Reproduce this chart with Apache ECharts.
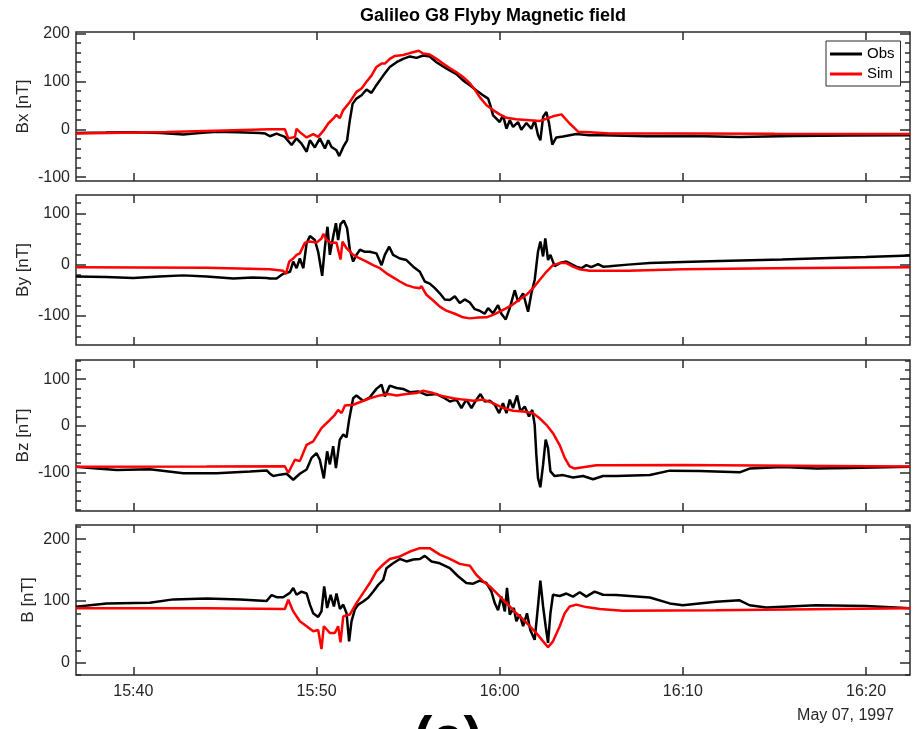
<!DOCTYPE html>
<html>
<head>
<meta charset="utf-8">
<script src="https://cdn.jsdelivr.net/npm/echarts@6/dist/echarts.min.js"></script>
<style>
  html, body { margin: 0; padding: 0; background: #ffffff; }
  #chart { width: 917px; height: 729px; }
</style>
</head>
<body>
<div id="chart"></div>
<script>
// Time is given in minutes after 15:00 UT, 7 May 1997.
const xTickMinutes = [40, 50, 60, 70, 80];
const xTickLabels = ['15:40', '15:50', '16:00', '16:10', '16:20'];

// Bx component [nT]
const bxObs = [[36.87,-7.6],[38.5,-7],[40.0,-6],[41.5,-8],[42.73,-11],[43.6,-8],[44.55,-5],[45.7,-6],[46.91,-7.6],[47.2,-9],[47.46,-14.6],[47.82,-9],[48.27,-16],[48.64,-33],[48.91,-19],[49.18,-30],[49.46,-47],[49.64,-23],[49.91,-38],[50.18,-19],[50.46,-40],[50.64,-23],[50.82,-37],[51.09,-44],[51.24,-56],[51.46,-37],[51.67,-23],[51.82,19],[51.97,53],[52.18,64],[52.46,71],[52.73,83],[53.0,76],[53.27,92],[53.64,112],[54.0,130],[54.37,140],[54.73,147],[55.1,152],[55.46,149],[55.82,154],[56.18,152],[56.55,140],[56.91,131],[57.27,123],[57.64,115],[58.0,102],[58.37,92],[58.73,81],[59.09,71],[59.37,64],[59.49,50],[59.64,29],[59.82,22],[60.0,15],[60.18,29],[60.37,1],[60.55,19],[60.73,5],[61.0,15],[61.18,-1],[61.46,13],[61.73,1],[61.91,19],[62.09,-12],[62.22,-23],[62.37,26],[62.55,36],[62.69,13],[62.87,-32],[63.09,-17],[63.46,-15],[64.18,-10],[64.91,-12.5],[65.64,-12.5],[68.0,-14.5],[70.5,-14],[73.1,-16],[76.0,-14],[79.0,-13],[82.4,-12.5]];
const bxSim = [[36.87,-9],[41.82,-5.6],[45.46,-2],[47.46,0],[48.27,0],[48.46,-19],[48.82,-16],[48.91,1],[49.09,-6],[49.46,-17],[49.82,-10],[50.09,-16],[50.37,-3.5],[50.64,12],[50.91,22],[51.09,30],[51.27,23],[51.46,40],[51.82,57],[52.18,78],[52.46,85],[52.73,99],[53.0,112],[53.27,130],[53.55,137],[53.73,137],[54.0,147],[54.28,153],[54.73,155],[55.1,159],[55.58,164],[55.82,158],[56.18,156],[56.55,147],[56.91,137],[57.27,128],[57.64,119],[58.0,109],[58.37,96],[58.64,83],[58.91,67],[59.28,50],[59.64,40],[60.0,31],[60.37,24],[60.91,21],[61.64,19],[62.18,17],[62.55,22],[62.91,27],[63.37,31],[63.82,12],[64.28,-5],[64.91,-6],[66.0,-9],[70.0,-9],[75.0,-9.5],[82.4,-10]];

// By component [nT]
const byObs = [[36.87,-23],[38.5,-24],[40.0,-26],[41.4,-23],[42.73,-21],[44.0,-23],[45.46,-27],[46.5,-25],[47.28,-26],[47.46,-27],[47.82,-27],[48.18,-18],[48.55,-14],[48.73,6],[48.91,-7],[49.09,12],[49.28,-7],[49.46,42],[49.64,56],[49.91,48],[50.09,25],[50.31,-22],[50.46,35],[50.6,74],[50.73,19],[50.91,55],[51.06,81],[51.18,48],[51.31,79],[51.49,86],[51.67,71],[51.82,29],[52.0,6],[52.18,19],[52.37,29],[52.64,25],[52.91,25],[53.27,22],[53.55,-1],[53.73,19],[53.97,35],[54.18,19],[54.55,12],[54.91,9],[55.28,-4],[55.64,-14],[55.91,-33],[56.18,-37],[56.46,-46],[56.73,-56],[57.0,-68],[57.28,-69],[57.55,-62],[57.82,-75],[58.09,-68],[58.37,-74],[58.64,-87],[58.91,-90],[59.18,-96],[59.37,-85],[59.64,-95],[59.91,-79],[60.09,-96],[60.33,-107],[60.55,-85],[60.82,-50],[61.0,-72],[61.28,-56],[61.55,-92],[61.73,-56],[61.91,-30],[62.09,25],[62.22,45],[62.37,16],[62.49,51],[62.64,9],[62.77,19],[63.0,-3],[63.28,3],[63.64,6],[63.91,1],[64.18,-4],[64.46,-7],[64.73,-1],[65.0,-5],[65.37,1],[65.64,-4],[66.0,-3],[67.0,0],[68.2,3],[70.0,5],[72.0,7],[75.4,10],[78.0,13],[80.0,15],[82.4,18]];
const bySim = [[36.87,-5],[44.0,-6],[47.46,-9],[48.18,-12],[48.33,-18],[48.51,6],[48.73,12],[48.91,19],[49.09,22],[49.37,43],[49.64,45],[50.0,43],[50.27,51],[50.37,60],[50.55,48],[50.82,42],[51.09,43],[51.31,10],[51.42,45],[51.64,32],[52.0,19],[52.37,12],[52.73,6],[53.09,-1],[53.46,-7],[53.82,-17],[54.18,-25],[54.55,-33],[54.91,-40],[55.28,-44],[55.64,-46],[55.73,-42],[56.0,-59],[56.37,-70],[56.73,-82],[57.09,-90],[57.55,-96],[58.0,-103],[58.37,-105],[58.82,-103.5],[59.28,-103],[59.64,-98],[60.0,-92],[60.37,-85],[60.73,-77.5],[61.09,-68],[61.46,-59],[61.82,-46],[62.18,-30],[62.55,-14],[62.91,-1],[63.28,3],[63.64,3],[64.0,-4],[64.37,-9],[64.91,-12],[65.64,-12],[67.0,-12],[70.0,-9],[75.0,-7],[82.4,-5]];

// Bz component [nT]
const bzObs = [[36.87,-88],[38.0,-92],[39.1,-95],[40.9,-93.5],[42.73,-102],[44.55,-102],[46.37,-98.5],[47.28,-96],[47.46,-103],[47.64,-108],[48.0,-105],[48.37,-103],[48.73,-116],[49.09,-103],[49.46,-94],[49.73,-69],[50.0,-59],[50.18,-73],[50.4,-113],[50.58,-55],[50.73,-83],[50.91,-44],[51.06,-91],[51.27,-30],[51.46,-19],[51.64,-25],[51.78,13],[52.0,59],[52.18,65],[52.55,53],[52.91,61],[53.27,79],[53.55,88],[53.73,63],[54.0,86],[54.37,81],[54.73,79],[55.1,72],[55.55,73.5],[56.0,66],[56.55,68],[56.91,61],[57.28,52],[57.64,56],[57.91,38],[58.18,56],[58.46,38],[58.73,56],[58.95,68],[59.18,52],[59.46,53.5],[59.73,45],[59.97,27],[60.18,48.5],[60.37,27],[60.55,56],[60.73,38],[60.95,65],[61.13,31],[61.37,41],[61.6,20],[61.78,34],[61.91,2],[62.0,-62],[62.09,-112],[62.22,-132],[62.37,-83.5],[62.51,-30],[62.64,-48],[62.77,-98],[63.0,-108],[63.46,-106],[64.0,-111],[64.55,-108],[65.1,-115],[65.64,-108],[66.37,-108],[68.2,-105.6],[69.28,-96.4],[70.9,-97],[73.1,-100],[73.64,-92],[75.46,-88.4],[77.28,-92],[79.1,-90.6],[82.4,-88]];
const bzSim = [[36.87,-88],[44.0,-87.5],[48.27,-87],[48.46,-101],[48.82,-73],[49.09,-76],[49.46,-41],[49.82,-33.5],[50.27,-5],[50.64,9],[51.0,23.5],[51.18,34],[51.37,27],[51.55,43.5],[52.0,45],[52.46,52],[52.91,59],[53.46,65],[53.91,68],[54.37,65],[54.91,68],[55.46,70],[55.82,75],[56.37,70],[56.91,63],[57.46,59],[58.0,56],[58.55,53.5],[59.09,56],[59.64,48.5],[60.18,38],[60.73,32],[61.28,30.6],[61.82,27],[62.18,16],[62.55,2],[62.91,-16],[63.28,-42],[63.55,-69],[63.82,-87],[64.09,-92],[64.55,-89],[65.28,-85],[66.0,-85],[70.0,-84.5],[76.0,-86],[82.4,-87.5]];

// Field magnitude |B| [nT]
const bObs = [[36.87,90.6],[38.54,96],[40.9,97],[42.18,102.5],[44.0,104],[45.82,102.5],[47.28,100],[47.55,109.5],[47.82,106],[48.18,106],[48.27,105],[48.55,113],[48.73,121],[48.91,110],[49.18,115],[49.46,112],[49.64,94],[49.82,80],[50.09,74],[50.27,83],[50.42,123.5],[50.58,88.5],[50.77,110],[50.95,91],[51.09,112],[51.28,87],[51.46,94],[51.64,80],[51.78,34.5],[51.91,67],[52.09,86],[52.28,94],[52.55,99],[52.82,105],[53.09,115],[53.37,126],[53.64,134],[53.82,153],[54.18,161],[54.55,168],[54.91,164],[55.28,167],[55.64,168],[55.91,173],[56.28,164],[56.73,161],[57.28,153],[57.73,140],[58.18,129],[58.55,128],[58.91,133],[59.28,129],[59.55,115],[59.73,96.5],[59.91,85],[60.09,107],[60.28,83],[60.4,121],[60.55,78],[60.77,88.5],[60.91,67],[61.09,78],[61.28,59],[61.49,80],[61.67,53],[61.91,37],[62.09,91],[62.22,133],[62.37,91],[62.51,59],[62.64,32],[62.77,80],[62.91,110],[63.28,108],[63.64,112],[64.0,107],[64.37,114],[64.73,107],[65.18,115],[65.64,110],[66.37,109.5],[68.2,105.6],[69.28,96],[70.0,93],[71.8,98.6],[73.1,101],[73.64,93],[74.55,89.5],[77.28,93],[80.0,91.6],[82.4,88]];
const bSim = [[36.87,88],[44.0,88],[48.27,87],[48.46,102],[48.73,83],[49.09,67],[49.46,59],[49.82,51],[50.09,53],[50.27,22],[50.4,59],[50.73,48],[51.0,48],[51.18,59],[51.31,33],[51.46,75],[51.82,78],[52.18,96.5],[52.55,113],[52.91,129],[53.27,148],[53.64,159],[54.0,168],[54.55,172],[55.1,180],[55.64,185.5],[56.18,185.5],[56.73,175],[57.28,168],[57.82,160],[58.37,157],[58.73,142],[59.09,132],[59.46,123.5],[59.82,113],[60.18,102],[60.55,91],[60.91,80],[61.28,70],[61.64,59],[62.0,48],[62.37,34.5],[62.64,25],[62.91,34.5],[63.28,59],[63.55,80],[63.82,91],[64.18,94],[64.73,90],[65.46,87],[66.7,84],[71.8,85],[82.4,88]];

const seriesNames = ['Obs', 'Sim'];
const panelLabels = ['Bx [nT]', 'By [nT]', 'Bz [nT]', 'B [nT]'];
const panelObs = [bxObs, byObs, bzObs, bObs];
const panelSim = [bxSim, bySim, bzSim, bSim];
const yMajorTicks = [[-100, 0, 100, 200], [-100, 0, 100], [-100, 0, 100], [0, 100, 200]];

// Axis extents and panel boxes
const T_MIN = 36.87, T_MAX = 82.4;
const yRanges = [[-108, 203], [-157, 136], [-183, 141], [-20, 223]];
const boxes = [[32, 149], [195, 150], [360, 151], [525, 150]];
// y-label offset follows the width of each panel's tick labels
const nameGaps = [44, 44, 44, 39];

const AX = '#2b2b2b';
const FONT = '"Liberation Sans", Arial, Helvetica, sans-serif';

function minorTicks(range) {
  const out = [];
  for (let v = Math.ceil(range[0] / 20) * 20; v <= range[1]; v += 20) out.push(v);
  return out;
}

const grids = [], xAxes = [], yAxes = [], series = [];
boxes.forEach((b, i) => {
  grids.push({ left: 76, right: 7, top: b[0], height: b[1], show: true,
    borderColor: AX, borderWidth: 1.5, backgroundColor: '#fff', outerBoundsMode: 'none' });

  ['bottom', 'top'].forEach(pos => {
    const labelled = (pos === 'bottom' && i === boxes.length - 1);
    xAxes.push({
      type: 'value', gridIndex: i, position: pos, min: T_MIN, max: T_MAX,
      axisLine: { show: false, onZero: false }, splitLine: { show: false },
      axisTick: { show: true, inside: true, length: 8, customValues: xTickMinutes,
        lineStyle: { color: AX, width: 1.5 } },
      axisLabel: { show: labelled, customValues: xTickMinutes, margin: 9,
        color: '#262626', fontSize: 16, fontFamily: FONT,
        formatter: v => xTickLabels[xTickMinutes.indexOf(Math.round(v))] || '' }
    });
  });

  const rng = yRanges[i];
  ['left', 'right'].forEach(pos => {
    yAxes.push({
      type: 'value', gridIndex: i, position: pos, min: rng[0], max: rng[1],
      axisLine: { show: false, onZero: false }, splitLine: { show: false },
      axisTick: { show: true, inside: true, length: 10, customValues: yMajorTicks[i],
        lineStyle: { color: AX, width: 1.5 } },
      axisLabel: { show: pos === 'left', customValues: yMajorTicks[i], margin: 6,
        color: '#262626', fontSize: 16, fontFamily: FONT },
      name: pos === 'left' ? panelLabels[i] : '',
      nameLocation: 'middle', nameGap: nameGaps[i], nameMoveOverlap: false,
      nameTextStyle: { color: '#262626', fontSize: 17, fontFamily: FONT }
    });
    yAxes.push({
      type: 'value', gridIndex: i, position: pos, min: rng[0], max: rng[1],
      axisLine: { show: false, onZero: false }, splitLine: { show: false },
      axisTick: { show: true, inside: true, length: 5, customValues: minorTicks(rng),
        lineStyle: { color: AX, width: 1.5 } },
      axisLabel: { show: false }
    });
  });

  series.push({
    name: seriesNames[0], type: 'line', xAxisIndex: 2 * i, yAxisIndex: 4 * i,
    data: panelObs[i], symbol: 'none', showSymbol: false, z: 3,
    lineStyle: { color: '#000000', width: 2.5 }, itemStyle: { color: '#000000' }
  });
  series.push({
    name: seriesNames[1], type: 'line', xAxisIndex: 2 * i, yAxisIndex: 4 * i,
    data: panelSim[i], symbol: 'none', showSymbol: false, z: 4,
    lineStyle: { color: '#ff0000', width: 2.5 }, itemStyle: { color: '#ff0000' }
  });
});

const chart = echarts.init(document.getElementById('chart'), null, { renderer: 'canvas' });
chart.setOption({
  animation: false,
  backgroundColor: '#ffffff',
  grid: grids,
  xAxis: xAxes,
  yAxis: yAxes,
  series: series,
  legend: {
    data: seriesNames, orient: 'vertical', left: 826, top: 41,
    icon: 'rect', itemWidth: 32, itemHeight: 3, itemGap: 4,
    padding: [5, 6, 4, 4], borderColor: AX, borderWidth: 1, backgroundColor: '#fff',
    selectedMode: false,
    textStyle: { color: '#000', fontSize: 15, lineHeight: 16, fontFamily: FONT }
  },
  graphic: [
    { type: 'text', x: 493, y: 16,
      style: { text: 'Galileo G8 Flyby Magnetic field', fill: '#000',
        font: 'bold 18px ' + FONT, align: 'center', verticalAlign: 'middle' } },
    { type: 'text', x: 894, y: 716,
      style: { text: 'May 07, 1997', fill: '#262626',
        font: '16px ' + FONT, align: 'right', verticalAlign: 'middle' } },
    { type: 'text', x: 448, y: 712,
      style: { text: '(a)', fill: '#000',
        font: 'bold 56px ' + FONT, align: 'center', verticalAlign: 'top' } }
  ]
});
</script>
</body>
</html>
